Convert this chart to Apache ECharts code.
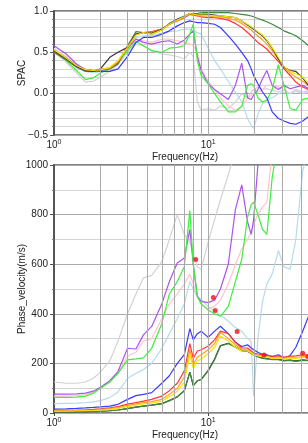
<!DOCTYPE html>
<html>
<head>
<meta charset="utf-8">
<script src="https://cdn.jsdelivr.net/npm/echarts@6/dist/echarts.min.js"></script>
<style>
  html, body { margin: 0; padding: 0; background: #fff; }
  #chart { width: 308px; height: 443px; }
</style>
</head>
<body>
<div id="chart"></div>
<script>
// frequency samples (Hz), shared by every curve
var freq = [1, 1.2, 1.4, 1.6, 1.8, 2, 2.3, 2.6, 3, 3.4, 3.8, 4.3,
  5, 5.6, 6.3, 7, 7.6, 8, 8.5, 9,
  10, 11, 12, 13.5, 15, 16.5, 18, 19, 19.7, 21,
  22.5, 24, 26, 28.5, 31, 34, 37, 41, 46, 52];

// SPAC curves (top panel)
var spacBlack = [0.52,0.42,0.33,0.28,0.27,0.30,0.44,0.50,0.56,0.72,0.74,0.73, 0.78,0.84,0.90,0.93,0.97,0.96,0.95,0.96, 0.96,0.95,0.94,0.93,0.92,0.88,0.83,0.80,0.78,0.74, 0.70,0.64,0.55,0.42,0.32,0.28,0.27,0.19,0.07,0.00];
var spacYellow = [0.53,0.43,0.34,0.29,0.28,0.29,0.32,0.40,0.56,0.71,0.74,0.72, 0.77,0.84,0.89,0.93,0.97,0.96,0.95,0.95, 0.95,0.94,0.94,0.93,0.92,0.88,0.84,0.81,0.79,0.75, 0.71,0.65,0.56,0.44,0.33,0.27,0.24,0.20,0.10,0.02];
var spacOrange = [0.52,0.42,0.33,0.28,0.28,0.29,0.31,0.39,0.56,0.71,0.74,0.74, 0.78,0.84,0.89,0.93,0.97,0.96,0.95,0.94, 0.94,0.93,0.93,0.91,0.89,0.85,0.80,0.77,0.74,0.70, 0.65,0.60,0.52,0.42,0.32,0.25,0.20,0.15,0.08,0.02];
var spacRed = [0.51,0.42,0.33,0.29,0.28,0.29,0.31,0.38,0.57,0.72,0.74,0.75, 0.78,0.84,0.88,0.92,0.96,0.95,0.94,0.93, 0.92,0.92,0.91,0.89,0.85,0.80,0.74,0.70,0.67,0.62, 0.58,0.54,0.47,0.39,0.30,0.22,0.14,0.08,0.04,0.00];
var spacDarkGreen = [0.50,0.41,0.32,0.27,0.27,0.29,0.30,0.36,0.58,0.75,0.74,0.72, 0.77,0.85,0.90,0.94,0.97,0.97,0.97,0.98, 0.98,0.98,0.98,0.98,0.97,0.96,0.95,0.94,0.93,0.91, 0.89,0.87,0.84,0.80,0.76,0.73,0.70,0.64,0.56,0.50];
var spacBlue = [0.52,0.43,0.34,0.29,0.28,0.27,0.27,0.30,0.45,0.62,0.68,0.68, 0.72,0.76,0.82,0.86,0.88,0.87,0.86,0.86, 0.85,0.84,0.80,0.70,0.60,0.50,0.40,0.30,0.22,0.12, 0.02,-0.05,-0.22,-0.30,-0.33,-0.36,-0.37,-0.33,-0.26,-0.25];
var spacLime = [0.51,0.40,0.28,0.17,0.19,0.25,0.30,0.38,0.52,0.63,0.58,0.52, 0.50,0.55,0.56,0.58,0.72,0.84,0.40,0.22, 0.12,0.00,-0.10,-0.22,-0.22,-0.15,0.10,0.12,0.10,-0.05, -0.10,-0.08,0.05,0.35,0.10,-0.18,-0.20,-0.07,-0.05,-0.03];
var spacPurple = [0.58,0.48,0.36,0.29,0.27,0.28,0.30,0.37,0.55,0.66,0.62,0.60, 0.63,0.64,0.60,0.65,0.72,0.76,0.45,0.28, 0.12,0.05,0.00,-0.07,0.10,0.37,-0.05,-0.07,-0.02,0.05, 0.18,0.28,0.10,0.05,0.10,0.06,0.08,0.10,0.05,0.06];
var spacPink = [0.55,0.45,0.35,0.30,0.28,0.28,0.30,0.36,0.54,0.66,0.64,0.62, 0.66,0.66,0.64,0.62,0.60,0.58,0.50,0.30, 0.15,0.05,-0.05,-0.15,-0.20,-0.16,-0.05,-0.02,0.00,0.02, 0.05,0.10,0.10,0.08,0.05,0.00,0.05,0.00,0.05,0.05];
var spacLightBlue = [0.54,0.44,0.34,0.27,0.25,0.27,0.30,0.37,0.55,0.68,0.70,0.70, 0.73,0.75,0.76,0.78,0.78,0.76,0.74,0.72, 0.55,0.40,0.30,0.15,0.02,-0.10,-0.30,-0.38,-0.42,-0.25, -0.12,-0.08,-0.05,0.00,0.02,0.00,0.03,0.00,0.02,0.00];
var spacGrey = [0.50,0.38,0.25,0.14,0.15,0.20,0.27,0.35,0.50,0.60,0.58,0.52, 0.48,0.47,0.45,0.42,0.50,0.45,-0.10,-0.20, -0.18,-0.20,-0.15,-0.18,-0.10,0.00,-0.05,0.02,0.05,0.08, 0.05,0.06,0.04,0.02,0.05,0.00,0.05,0.02,0.05,0.00];

// phase velocity curves, m/s (bottom panel)
var velGrey = [125,120,120,125,140,165,210,290,400,480,545,555, 610,700,800,720,690,640,590,580, 690,780,860,960,1060,1150,null,null,null,null, null,null,null,null,null,null,null,null,null,null];
var velPurple = [76,76,77,80,88,104,130,167,261,258,315,349, 440,530,605,625,740,600,470,450, 445,455,500,600,820,920,770,720,780,1000, 1150,null,null,null,null,null,null,null,null,null];
var velLime = [63,63,64,68,80,100,125,160,214,218,222,261, 360,480,530,590,816,600,470,440, 415,400,390,430,530,620,790,840,850,800, 740,720,950,1100,null,null,null,null,null,null];
var velPink = [68,68,70,74,85,100,125,160,230,245,290,300, 380,440,480,520,560,520,470,440, 420,430,455,520,598,660,700,730,760,800, 830,850,1050,null,null,null,null,null,null,null];
var velLightBlue = [38,39,40,42,45,50,62,85,140,160,175,200, 260,320,380,440,530,500,470,457, 430,410,396,370,345,330,300,290,68,300, 450,520,560,655,590,580,700,975,1100,null];
var velBlue = [16,17,19,21,23,25,28,35,55,70,75,82, 120,150,200,235,340,295,320,330, 305,330,350,320,285,268,275,262,255,245, 236,235,228,235,222,232,265,330,410,480];
var velRed = [11,11,12,13,15,17,21,26,36,42,48,55, 68,90,120,170,280,220,250,255, 270,295,330,320,285,262,262,250,242,238, 234,232,228,230,225,228,230,235,232,230];
var velOrange = [9,9,10,11,12,14,18,22,31,37,42,46, 55,75,100,145,255,195,225,235, 255,280,325,300,275,255,255,245,238,232, 229,228,222,225,220,225,222,228,225,224];
var velYellow = [7,7,8,9,10,11,14,18,26,32,37,40, 48,65,88,125,235,180,210,218, 240,265,310,290,265,250,250,242,235,230, 227,225,220,222,218,222,220,225,222,221];
var velDarkGreen = [4,4,5,5,6,7,9,12,18,24,28,32, 38,50,65,90,165,110,130,135, 170,215,270,280,265,250,248,240,235,226, 220,218,215,215,210,212,208,212,210,211];
var velBlack = [4,4,5,5,6,7,9,12,18,24,28,32, 38,50,65,90,165,110,130,135, 172,218,272,281,266,252,249,241,236,228, 222,219,217,216,212,213,210,214,211,212];

// picked dispersion points
var pickFreq = [8.3, 10.8, 11.1, 15.4, 23, 41, 44.2];
var pickVel = [619, 466, 413, 329, 234, 241, 228];

// log grid lines
var gridFreqs = [2, 3, 4, 5, 6, 7, 8, 9, 10, 20, 30, 40];

// bottom-panel draw order: the dark green hides the black trace
var curves = [
  ['grey', '#d2d2d2', spacGrey, velGrey],
  ['pink', '#ffc4cc', spacPink, velPink],
  ['lightblue', '#b4dcea', spacLightBlue, velLightBlue],
  ['purple', '#ad52ee', spacPurple, velPurple],
  ['lime', '#3cef3c', spacLime, velLime],
  ['black', '#333333', spacBlack, velBlack],
  ['darkgreen', '#3d8a3d', spacDarkGreen, velDarkGreen],
  ['blue', '#3a3aff', spacBlue, velBlue],
  ['red', '#ff3535', spacRed, velRed],
  ['orange', '#ffa020', spacOrange, velOrange],
  ['yellow', '#f2e600', spacYellow, velYellow]
];
var topOrder = ['grey', 'pink', 'lightblue', 'purple', 'lime', 'darkgreen', 'blue', 'red', 'orange', 'black', 'yellow'];

function pairs(xs, ys) {
  var out = [];
  for (var i = 0; i < xs.length; i++) {
    if (ys[i] !== null) out.push([xs[i], ys[i]]);
  }
  return out;
}

var font = 'Liberation Sans';
var txt = '#222';

function xAxisFor(idx) {
  return {
    type: 'log', logBase: 10, gridIndex: idx, min: 1, max: 50,
    name: 'Frequency(Hz)', nameLocation: 'middle', nameGap: 17, nameMoveOverlap: false,
    nameTextStyle: { fontFamily: font, fontSize: 10, color: txt },
    axisLine: { show: false },
    axisTick: { show: true, length: 3, lineStyle: { color: '#444' } },
    splitLine: { show: false },
    axisLabel: {
      margin: 4,
      formatter: function (v) {
        var e = Math.round(Math.log(v) / Math.LN10);
        if (Math.abs(Math.pow(10, e) - v) < 1e-6) return '{b|10}{s|' + e + '}';
        return '';
      },
      rich: {
        b: { fontFamily: font, fontSize: 10, color: txt },
        s: { fontFamily: font, fontSize: 7, color: txt, padding: [0, 0, 6, 0] }
      }
    }
  };
}

function yAxisFor(idx, opt) {
  return {
    type: 'value', gridIndex: idx, min: opt.min, max: opt.max, interval: opt.interval,
    name: opt.name, nameLocation: 'middle', nameGap: 27, nameMoveOverlap: false,
    nameTextStyle: { fontFamily: font, fontSize: 10, color: txt },
    axisLine: { show: true, lineStyle: { color: '#555', width: 2 } },
    axisTick: { show: true, length: 4, lineStyle: { color: '#555' } },
    minorTick: { show: true, splitNumber: opt.minor, length: 2, lineStyle: { color: '#777' } },
    splitLine: { show: true, lineStyle: { color: '#aaa', width: 1 } },
    minorSplitLine: { show: true, lineStyle: { color: '#d4d4d4', width: 1 } },
    axisLabel: {
      margin: 6, fontFamily: font, fontSize: 10, color: txt,
      formatter: opt.fmt
    }
  };
}

var series = [];
[0, 1].forEach(function (g) {
  series.push({
    type: 'line', xAxisIndex: g, yAxisIndex: g, data: [], silent: true,
    markLine: {
      silent: true, symbol: 'none', label: { show: false },
      lineStyle: { color: '#aaaaaa', type: 'solid', width: 1 },
      data: gridFreqs.map(function (f) { return { xAxis: f }; })
    }
  });
});
topOrder.forEach(function (name) {
  var c = curves.filter(function (k) { return k[0] === name; })[0];
  series.push({
    name: c[0], type: 'line', xAxisIndex: 0, yAxisIndex: 0,
    data: pairs(freq, c[2]), showSymbol: false, symbol: 'none',
    lineStyle: { color: c[1], width: 1.2 }, silent: true
  });
});
curves.forEach(function (c) {
  series.push({
    name: c[0], type: 'line', xAxisIndex: 1, yAxisIndex: 1,
    data: pairs(freq, c[3]), showSymbol: false, symbol: 'none',
    lineStyle: { color: c[1], width: 1.2 }, silent: true
  });
});
series.push({
  type: 'scatter', xAxisIndex: 1, yAxisIndex: 1,
  data: pairs(pickFreq, pickVel), symbolSize: 5,
  itemStyle: { color: '#ee1111' }, z: 5, silent: true
});

var chart = echarts.init(document.getElementById('chart'));
chart.setOption({
  animation: false,
  backgroundColor: '#fff',
  grid: [
    { left: 54, top: 11, width: 262, height: 124, show: true, borderColor: '#555', borderWidth: 1.5,
      containLabel: false, outerBoundsMode: 'none' },
    { left: 54, top: 165, width: 262, height: 248, show: true, borderColor: '#555', borderWidth: 1.5,
      containLabel: false, outerBoundsMode: 'none' }
  ],
  xAxis: [xAxisFor(0), xAxisFor(1)],
  yAxis: [
    yAxisFor(0, { min: -0.5, max: 1, interval: 0.5, minor: 5, name: 'SPAC',
      fmt: function (v) { return (v < 0 ? '\u2212' : '') + Math.abs(v).toFixed(1); } }),
    yAxisFor(1, { min: 0, max: 1000, interval: 200, minor: 2, name: 'Phase_velocity(m/s)',
      fmt: function (v) { return String(v); } })
  ],
  series: series
});
</script>
</body>
</html>
